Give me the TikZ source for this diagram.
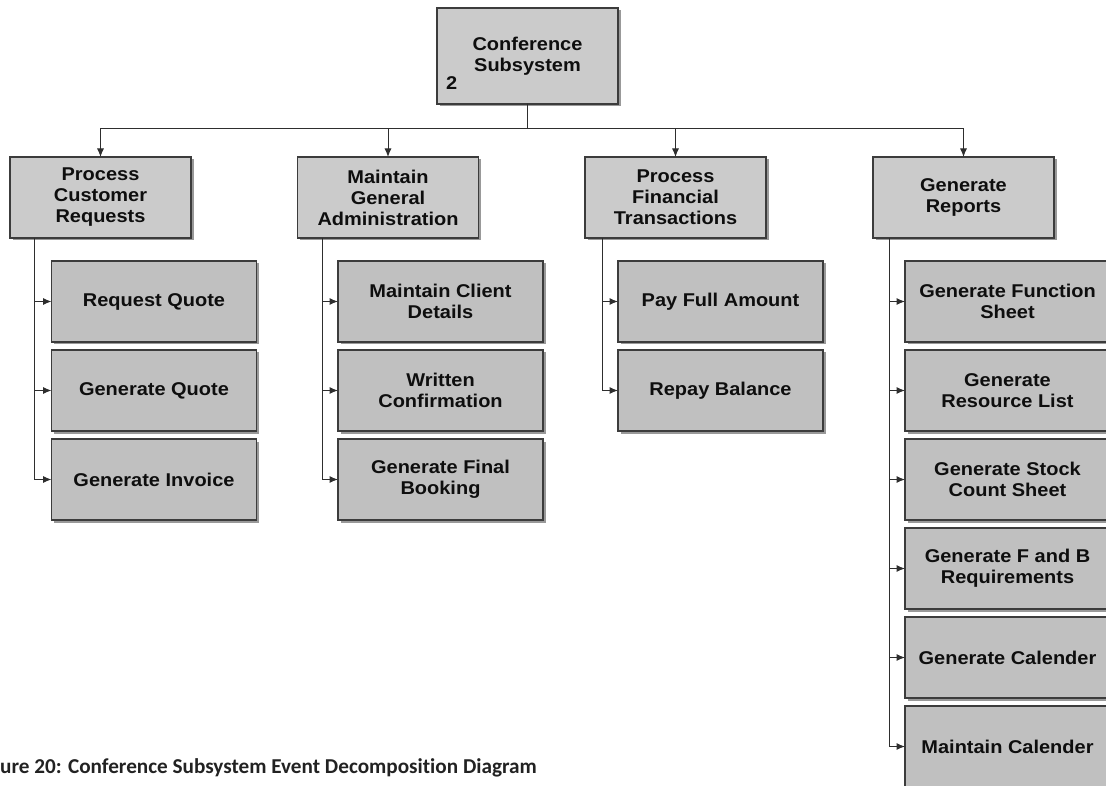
\documentclass[tikz,border=0pt]{standalone}
\usepackage{fontspec}
\setmainfont{Liberation Sans}
\newfontfamily\boxfont[FakeStretch=1.08]{Liberation Sans}
\newfontfamily\capfont[Ligatures=NoCommon]{Carlito}
\usetikzlibrary{shadows,arrows.meta}

\definecolor{boxedge}{HTML}{3C3C3C}
\definecolor{headfill}{HTML}{CBCBCB}
\definecolor{leaffill}{HTML}{C0C0C0}
\definecolor{linec}{HTML}{2E2E2E}
\definecolor{textc}{HTML}{0E0E0E}
\definecolor{capc}{HTML}{222222}

\tikzset{
  boxbase/.style={draw=boxedge, line width=1.5pt, inner sep=2pt, outer sep=0pt,
    align=center, text=textc,
    font=\boxfont\bfseries\fontsize{18.5}{21}\selectfont,
    drop shadow={shadow xshift=2.5pt, shadow yshift=-2.5pt, opacity=0.4, fill=black}},
  headbox/.style={boxbase, fill=headfill, minimum width=181pt, minimum height=81pt},
  leafbox/.style={boxbase, fill=leaffill, minimum width=205pt, minimum height=81pt},
  link/.style={draw=linec, line width=1pt},
  tiplink/.style={link, -{Latex[length=8.5pt,width=7pt]}},
}

\begin{document}
\begin{tikzpicture}[x=1pt,y=-1pt]
\useasboundingbox (0,0) rectangle (1106,786);
\clip (0,0) rectangle (1106,786);

% root
\node[headbox, minimum height=96pt] (root) at (527.5,56) {Conference\\Subsystem};
\node[anchor=base west, inner sep=0pt, text=textc,
      font=\boxfont\bfseries\fontsize{18.5}{21}\selectfont] (num) at (446,90) {2};

% second level
\node[headbox] (p1) at (100.5,197.5) {Process\\Customer\\Requests};
\node[headbox] (p2) at (388,197.5) {Maintain\\General\\Administration};
\node[headbox] (p3) at (675.5,197.5) {Process\\Financial\\Transactions};
\node[headbox] (p4) at (963.5,197.5) {Generate\\Reports};

% leaves
\node[leafbox] (a1) at (154,301.5) {Request Quote};
\node[leafbox] (a2) at (154,390.5) {Generate Quote};
\node[leafbox] (a3) at (154,479.5) {Generate Invoice};

\node[leafbox] (b1) at (440.5,301.5) {Maintain Client\\Details};
\node[leafbox] (b2) at (440.5,390.5) {Written\\Confirmation};
\node[leafbox] (b3) at (440.5,479.5) {Generate Final\\Booking};

\node[leafbox] (c1) at (720.5,301.5) {Pay Full Amount};
\node[leafbox] (c2) at (720.5,390.5) {Repay Balance};

\node[leafbox] (d1) at (1007.5,301.5) {Generate Function\\Sheet};
\node[leafbox] (d2) at (1007.5,390.5) {Generate\\Resource List};
\node[leafbox] (d3) at (1007.5,479.5) {Generate Stock\\Count Sheet};
\node[leafbox] (d4) at (1007.5,568.5) {Generate F and B\\Requirements};
\node[leafbox] (d5) at (1007.5,657.5) {Generate Calender};
\node[leafbox] (d6) at (1007.5,746.5) {Maintain Calender};

% root to second level
\foreach \p in {p1,p2,p3,p4}
  \draw[tiplink] (root.south) -- ++(0,25) -| (\p.north);

% trunks under the second level
\coordinate (t1) at (34,238.5);
\coordinate (t2) at (322,238.5);
\coordinate (t3) at (602,238.5);
\coordinate (t4) at (889,238.5);

\foreach \c in {a1,a2,a3} \draw[tiplink] (t1) |- (\c);
\foreach \c in {b1,b2,b3} \draw[tiplink] (t2) |- (\c);
\foreach \c in {c1,c2} \draw[tiplink] (t3) |- (\c);
\foreach \c in {d1,d2,d3,d4,d5,d6} \draw[tiplink] (t4) |- (\c);

% caption
\node[anchor=base west, inner sep=0pt, text=capc,
      font=\capfont\bfseries\fontsize{21.2}{24}\selectfont] (cap) at (0,773)
  {ure 20: Conference Subsystem Event Decomposition Diagram};
\end{tikzpicture}
\end{document}
